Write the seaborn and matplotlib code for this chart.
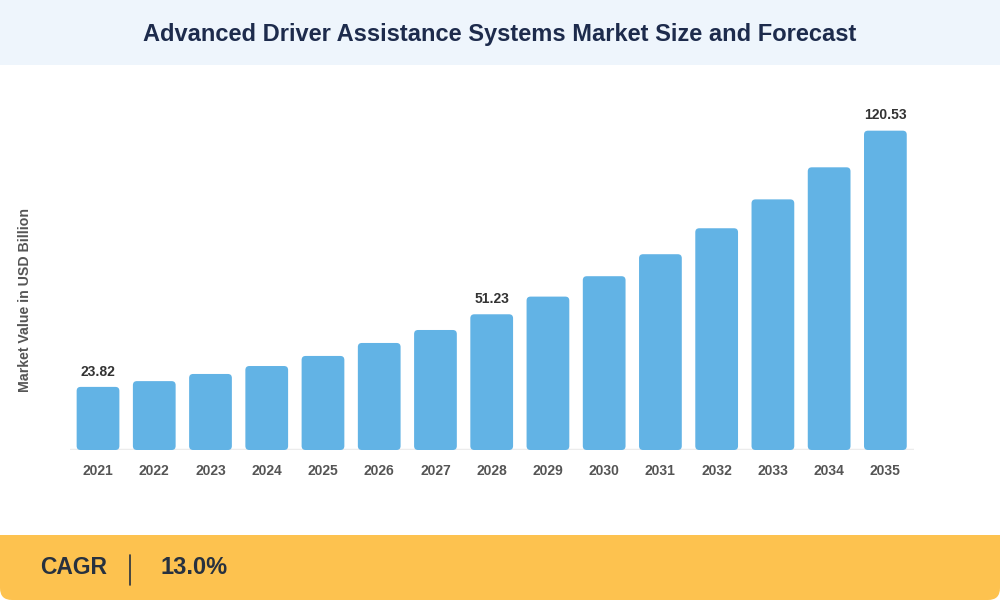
import pandas as pd
import seaborn as sns
import matplotlib.pyplot as plt
from matplotlib.patches import FancyBboxPatch, Rectangle

# данные графика
years = ['2021', '2022', '2023', '2024', '2025', '2026', '2027', '2028',
         '2029', '2030', '2031', '2032', '2033', '2034', '2035']
values = [23.82, 26.0, 28.7, 31.7, 35.5, 40.4, 45.3, 51.23,
          57.9, 65.6, 73.9, 83.7, 94.6, 106.7, 120.53]
labelled_years = ['2021', '2028', '2035']

title = 'Advanced Driver Assistance Systems Market Size and Forecast'
ylabel = 'Market Value in USD Billion'
cagr_label = 'CAGR'
cagr_value = '13.0%'

data = pd.DataFrame({'year': years, 'value': values})

sns.set_theme(style='white')
plt.rcParams['font.family'] = ['Liberation Sans', 'DejaVu Sans']

fig = plt.figure(figsize=(10, 6), dpi=100)
fig.patch.set_facecolor('white')

# верхняя и нижняя плашки
fig.patches.append(Rectangle((0, 1 - 65 / 600), 1, 65 / 600, transform=fig.transFigure,
                             facecolor='#eef5fc', edgecolor='none', zorder=0))
fig.patches.append(FancyBboxPatch((0, 0), 1, 65 / 600, transform=fig.transFigure,
                                  boxstyle='round,pad=0,rounding_size=0.012',
                                  mutation_aspect=10 / 6,
                                  facecolor='#fdc24f', edgecolor='none', zorder=0))
fig.patches.append(Rectangle((0, 30 / 600), 1, 35 / 600, transform=fig.transFigure,
                             facecolor='#fdc24f', edgecolor='none', zorder=0))

fig.text(0.5, 1 - 34 / 600, title, ha='center', va='center',
         fontsize=17, fontweight='bold', color='#1d2b4c')
fig.text(0.040, 1 - 568 / 600, cagr_label, ha='left', va='center',
         fontsize=16.5, fontweight='bold', color='#27313f')
fig.add_artist(plt.Line2D([0.130, 0.130], [1 - 555 / 600, 1 - 585 / 600],
                          transform=fig.transFigure, color='#27313f', lw=1.2))
fig.text(0.160, 1 - 568 / 600, cagr_value, ha='left', va='center',
         fontsize=17, fontweight='bold', color='#27313f')

ax = fig.add_axes([0.0699, 0.25, 0.8436, 0.5833])
sns.barplot(x='year', y='value', data=data, color='#62b3e5', saturation=1,
            width=0.76, ax=ax)
ax.set_xlim(-0.5, len(years) - 0.5)
ax.set_ylim(0, 132.1)

# скругляем углы столбцов
x_per_px = (len(years)) / (0.8436 * 1000)
y_per_px = 132.1 / (0.5833 * 600)
for bar in list(ax.patches):
    x0, y0 = bar.get_x(), bar.get_y()
    w, h = bar.get_width(), bar.get_height()
    rounded = FancyBboxPatch((x0, y0), w, h,
                             boxstyle='round,pad=0,rounding_size=%f' % (4 * x_per_px),
                             mutation_aspect=y_per_px / x_per_px,
                             facecolor=bar.get_facecolor(), edgecolor='none', zorder=3)
    bar.remove()
    ax.add_patch(rounded)

# подписи значений
for i, (yr, val) in enumerate(zip(years, values)):
    if yr in labelled_years:
        ax.annotate('%.2f' % val, (i, val), xytext=(0, 6), textcoords='offset points',
                    ha='center', va='bottom', fontsize=10, fontweight='bold', color='#333333')

ax.axhline(0, color='#ececec', lw=2.5, zorder=1)
sns.despine(ax=ax, left=True, bottom=True, top=True, right=True)
ax.set_yticks([])
ax.set_xlabel('')
ax.set_ylabel('')
ax.tick_params(axis='x', length=0, pad=10)
for lab in ax.get_xticklabels():
    lab.set_fontsize(10)
    lab.set_fontweight('bold')
    lab.set_color('#555555')

fig.text(0.025, 1 - 300 / 600, ylabel, rotation=90, ha='center', va='center',
         fontsize=10.2, fontweight='bold', color='#555555')

fig.savefig('out.png', dpi=100)
